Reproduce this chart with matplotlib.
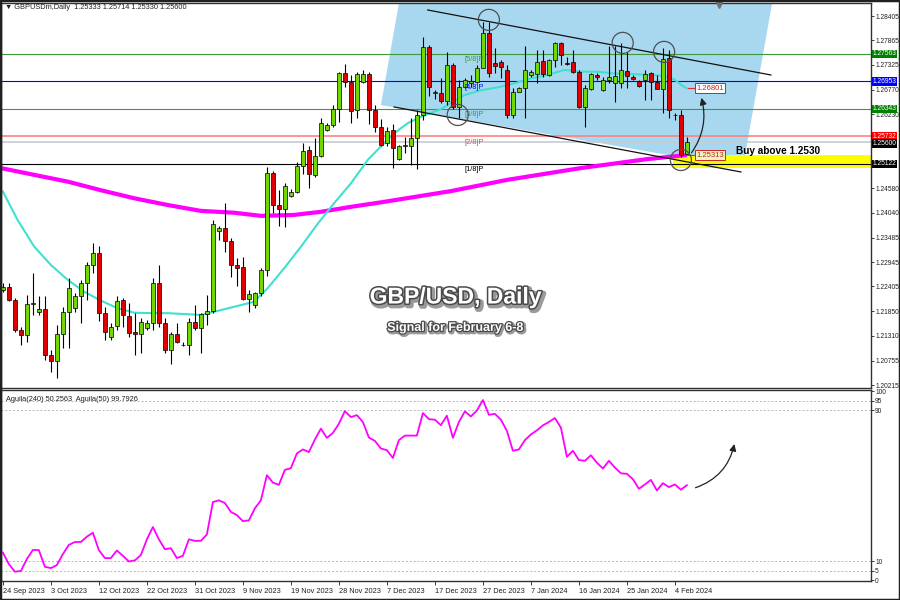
import matplotlib
matplotlib.use("Agg")
import matplotlib.pyplot as plt
import matplotlib.patheffects as pe
from matplotlib.patches import Polygon, Rectangle

plt.rcParams['font.family'] = ['Liberation Sans', 'DejaVu Sans']

# ---------------- data ----------------
opens = [1.2232, 1.2240, 1.2210, 1.2144, 1.2133, 1.2201, 1.2184, 1.2190, 1.2087, 1.2075,
         1.2135, 1.2184, 1.2192, 1.2218, 1.2249, 1.2288, 1.2314, 1.2181, 1.2129, 1.2153,
         1.2210, 1.2175, 1.2140, 1.2134, 1.2147, 1.2160, 1.2247, 1.2160, 1.2099, 1.2135,
         1.2110, 1.2110, 1.2162, 1.2147, 1.2179, 1.2186, 1.2364, 1.2369, 1.2342, 1.2289,
         1.2283, 1.2212, 1.2199, 1.2225, 1.2277, 1.2493, 1.2421, 1.2412, 1.2441, 1.2450,
         1.2508, 1.2543, 1.2488, 1.2530, 1.2588, 1.2598, 1.2634, 1.2713, 1.2695, 1.2632,
         1.2694, 1.2711, 1.2632, 1.2594, 1.2559, 1.2588, 1.2523, 1.2553, 1.2552, 1.2569,
         1.2621, 1.2771, 1.2669, 1.2670, 1.2653, 1.2731, 1.2639, 1.2682, 1.2693, 1.2695,
         1.2725, 1.2802, 1.2736, 1.2739, 1.2721, 1.2621, 1.2673, 1.2680, 1.2710, 1.2712,
         1.2741, 1.2710, 1.2743, 1.2780, 1.2736, 1.2739, 1.2717, 1.2638, 1.2678, 1.2710,
         1.2676, 1.2699, 1.2692, 1.2692, 1.2719, 1.2706, 1.2697, 1.2699, 1.2713, 1.2695,
         1.2678, 1.2747, 1.2621, 1.2621, 1.25333]
highs = [1.2247, 1.2247, 1.2214, 1.2151, 1.2221, 1.2270, 1.2218, 1.2219, 1.2099, 1.2155,
         1.2195, 1.2258, 1.2225, 1.2255, 1.2295, 1.2336, 1.2330, 1.2195, 1.2159, 1.2218,
         1.2214, 1.2203, 1.2181, 1.2170, 1.2166, 1.2258, 1.2288, 1.2170, 1.2140, 1.2159,
         1.2118, 1.2170, 1.2199, 1.2181, 1.2221, 1.2388, 1.2375, 1.2426, 1.2347, 1.2303,
         1.2306, 1.2232, 1.2229, 1.2281, 1.2505, 1.2497, 1.2454, 1.2469, 1.2456, 1.2517,
         1.2558, 1.2552, 1.2569, 1.2614, 1.2603, 1.2643, 1.2717, 1.2734, 1.2710, 1.2717,
         1.2721, 1.2717, 1.2643, 1.2611, 1.2595, 1.2602, 1.2554, 1.2573, 1.2614, 1.2632,
         1.2795, 1.2776, 1.2676, 1.2702, 1.2761, 1.2736, 1.2699, 1.2702, 1.2710, 1.2732,
         1.2828, 1.2828, 1.2769, 1.2743, 1.2732, 1.2680, 1.2682, 1.2773, 1.2721, 1.2765,
         1.2765, 1.2745, 1.2784, 1.2784, 1.2750, 1.2765, 1.2721, 1.2688, 1.2713, 1.2713,
         1.2706, 1.2773, 1.2773, 1.2780, 1.2761, 1.2710, 1.2699, 1.2721, 1.2717, 1.2710,
         1.2769, 1.2765, 1.2625, 1.2632, 1.25714]
lows = [1.2229, 1.2209, 1.2140, 1.2110, 1.2118, 1.2177, 1.2177, 1.2077, 1.2051, 1.2036,
        1.2103, 1.2103, 1.2184, 1.2160, 1.2210, 1.2270, 1.2164, 1.2121, 1.2121, 1.2144,
        1.2151, 1.2129, 1.2088, 1.2092, 1.2144, 1.2144, 1.2151, 1.2092, 1.2068, 1.2114,
        1.2107, 1.2088, 1.2144, 1.2093, 1.2155, 1.2181, 1.2343, 1.2317, 1.2261, 1.2241,
        1.2210, 1.2184, 1.2192, 1.2219, 1.2263, 1.2403, 1.2375, 1.2372, 1.2438, 1.2447,
        1.2490, 1.2458, 1.2484, 1.2528, 1.2586, 1.2595, 1.2606, 1.2684, 1.2604, 1.2614,
        1.2691, 1.2602, 1.2584, 1.2552, 1.2552, 1.2503, 1.2521, 1.2536, 1.2510, 1.2500,
        1.2610, 1.2662, 1.2656, 1.2648, 1.2643, 1.2634, 1.2614, 1.2680, 1.2682, 1.2692,
        1.2725, 1.2706, 1.2713, 1.2702, 1.2614, 1.2614, 1.2671, 1.2614, 1.2706, 1.2692,
        1.2706, 1.2708, 1.2728, 1.2732, 1.2732, 1.2715, 1.2636, 1.2595, 1.2676, 1.2699,
        1.2675, 1.2692, 1.2650, 1.2680, 1.2680, 1.2699, 1.2684, 1.2654, 1.2654, 1.2678,
        1.2625, 1.2614, 1.2610, 1.2528, 1.25330]
closes = [1.2240, 1.2210, 1.2144, 1.2133, 1.2201, 1.2203, 1.2190, 1.2087, 1.2075, 1.2135,
          1.2184, 1.2236, 1.2218, 1.2249, 1.2288, 1.2314, 1.2181, 1.2140, 1.2151, 1.2209,
          1.2177, 1.2138, 1.2134, 1.2162, 1.2160, 1.2247, 1.2160, 1.2099, 1.2135, 1.2118,
          1.2111, 1.2162, 1.2147, 1.2179, 1.2186, 1.2380, 1.2369, 1.2342, 1.2288, 1.2281,
          1.2212, 1.2223, 1.2225, 1.2277, 1.2493, 1.2421, 1.2412, 1.2463, 1.2450, 1.2508,
          1.2541, 1.2490, 1.2530, 1.2603, 1.2598, 1.2634, 1.2713, 1.2695, 1.2630, 1.2711,
          1.2711, 1.2632, 1.2594, 1.2554, 1.2586, 1.2547, 1.2552, 1.2554, 1.2569, 1.2621,
          1.2771, 1.2684, 1.2673, 1.2653, 1.2731, 1.2638, 1.2682, 1.2699, 1.2697, 1.2725,
          1.2802, 1.2713, 1.2730, 1.2728, 1.2621, 1.2673, 1.2680, 1.2721, 1.2717, 1.2739,
          1.2712, 1.2743, 1.2780, 1.2754, 1.2735, 1.2717, 1.2638, 1.2680, 1.2712, 1.2705,
          1.2699, 1.2705, 1.2708, 1.2721, 1.2708, 1.2700, 1.2685, 1.2712, 1.2695, 1.2678,
          1.2745, 1.2632, 1.2620, 1.2532, 1.25600]

ma_fast_x = [0, 2.45, 5.2, 8, 10.8, 13.5, 16.3, 19.1, 21.9, 24.7, 27.5, 33, 35.2, 38.5, 41.8,
             44.1, 46.9, 49.7, 52.5, 55.2, 58, 60.8, 63, 65.2, 67.5, 69.7, 73, 76.9, 79.7,
             82.4, 85.2, 88, 90.8, 93.6, 96.3, 99.1, 101.9, 104.7, 107.4, 110.2, 111.9, 113, 114]
ma_fast = [1.2451, 1.2388, 1.2329, 1.2288, 1.2255, 1.2229, 1.2209, 1.2192, 1.2182, 1.2181,
           1.2181, 1.2177, 1.2184, 1.2195, 1.2206, 1.2236, 1.2281, 1.2329, 1.2380, 1.2425,
           1.2469, 1.2521, 1.2551, 1.2580, 1.2603, 1.2617, 1.2634, 1.2665, 1.2676, 1.2682,
           1.2691, 1.2702, 1.2710, 1.2721, 1.2717, 1.2717, 1.2713, 1.2712, 1.2710, 1.2708,
           1.2700, 1.2688, 1.2680]
ma_slow_x = [-0.3, 5.2, 10.8, 16.3, 21.9, 27.5, 33, 38.5, 43, 48.5, 53, 58, 63.5, 69.1, 74.7,
             84.1, 96.3, 107.4, 114]
ma_slow = [1.2503, 1.2488, 1.2473, 1.2454, 1.2436, 1.2421, 1.2408, 1.2404, 1.2397, 1.2399,
           1.2406, 1.2417, 1.2428, 1.2440, 1.2452, 1.2477, 1.2503, 1.2523, 1.2532]

aguila = [14.7, 8.6, 4.6, 5.0, 11.3, 16.1, 16.0, 7.2, 6.5, 8.1,
          13.9, 18.8, 20.3, 20.3, 23.1, 25.2, 16.0, 11.8, 11.8, 15.8,
          13.0, 10.0, 10.6, 13.4, 21.7, 28.2, 21.7, 16.5, 17.0, 11.8,
          13.0, 21.7, 20.9, 20.9, 24.3, 41.4, 42.3, 40.9, 36.2, 34.5,
          31.3, 31.7, 38.1, 42.3, 55.6, 51.7, 50.5, 58.4, 59.3, 67.1,
          69.2, 67.8, 74.4, 80.2, 75.3, 77.9, 82.8, 89.4, 86.3, 87.3,
          83.7, 75.5, 73.7, 69.7, 68.8, 64.7, 74.1, 76.5, 76.5, 76.5,
          88.4, 85.2, 84.9, 82.0, 87.0, 75.3, 83.7, 89.3, 86.6, 89.8,
          95.3, 87.5, 88.0, 84.9, 79.0, 68.5, 69.2, 74.1, 77.1, 79.3,
          81.9, 83.7, 85.8, 80.7, 65.3, 68.5, 63.6, 63.2, 66.1, 62.2,
          59.1, 63.2, 59.6, 56.6, 56.3, 53.5, 48.4, 50.7, 53.1, 47.5,
          51.4, 49.3, 50.7, 47.9, 50.3]

date_idx = [0, 8, 16, 24, 32, 40, 48, 56, 64, 72, 80, 88, 96, 104, 112]
date_labels = ["24 Sep 2023", "3 Oct 2023", "12 Oct 2023", "22 Oct 2023", "31 Oct 2023",
               "9 Nov 2023", "19 Nov 2023", "28 Nov 2023", "7 Dec 2023", "17 Dec 2023",
               "27 Dec 2023", "7 Jan 2024", "16 Jan 2024", "25 Jan 2024", "4 Feb 2024"]

price_ticks = [1.28405, 1.27865, 1.27325, 1.26770, 1.26230, 1.24580, 1.24040, 1.23485,
               1.22945, 1.22405, 1.21850, 1.21310, 1.20755, 1.20215]

murrey_levels = [1.27563, 1.26953, 1.26343, 1.25732, 1.25122]
murrey_names = ["[5/8]P", "[4/8]P", "[3/8]P", "[2/8]P", "[1/8]P"]
murrey_colors = ["#3c9a3c", "#0000ff", "#3c9a3c", "#ff8080", "#000000"]
murrey_box = ["#008000", "#0000ff", "#008000", "#ff0000", "#000000"]
bid_price = 1.25600

chan_upper_x = [70.8, 128.0]
chan_upper_y = [1.28540, 1.27097]
chan_lower_x = [65.2, 123.0]
chan_lower_y = [1.26387, 1.24944]
box_x = [63.0, 66.1, 128.3, 123.3]
box_y = [1.26430, 1.28761, 1.28761, 1.25032]
circle_x = [75.8, 81.0, 103.3, 110.2, 113.0]
circle_y = [1.2621, 1.2832, 1.2781, 1.2761, 1.2521]
zone_x = [111.7, 145.0]
zone_y = [1.2504, 1.2532]

ind_levels = [95, 90, 10, 5]
ind_ticks = [100, 95, 90, 10, 5, 0]

# ---------------- figure ----------------
fig = plt.figure(figsize=(9, 6), dpi=100)
fig.patch.set_facecolor("white")
ax = fig.add_axes([0.001, 0.3533, 0.9667, 0.6417])
ax2 = fig.add_axes([0.001, 0.0317, 0.9667, 0.3183])

XMIN, XMAX = -0.33, 144.67
ax.set_xlim(XMIN, XMAX)
ax.set_ylim(1.20148, 1.28695)
ax2.set_xlim(XMIN, XMAX)
ax2.set_ylim(-0.3, 100.6)

# channel box
ax.add_patch(Polygon(list(zip(box_x, box_y)), closed=True, facecolor="#a8d8f0",
                     edgecolor="none", zorder=0.5))
# yellow zone
ax.add_patch(Rectangle((zone_x[0], zone_y[0]), zone_x[1] - zone_x[0], zone_y[1] - zone_y[0],
                       facecolor="#ffff00", edgecolor="none", zorder=0.6))

# horizontal levels
for lv, col in zip(murrey_levels, murrey_colors):
    ax.axhline(lv, color=col, lw=1.2 if col == "#ff8080" else 0.8, zorder=1)
ax.axhline(bid_price, color="#c4ccd4", lw=1.2, zorder=1)

for lv, nm, col in zip(murrey_levels, murrey_names, murrey_colors):
    tc = "#ff4040" if col == "#ff8080" else col
    ax.annotate(nm, xy=(77.0, lv), xytext=(0, -1.5), textcoords="offset points",
                fontsize=5.3, color=tc, va="top", ha="left", zorder=6)

# moving averages
ax.plot(ma_slow_x, ma_slow, color="#ff00ff", lw=3.0, zorder=2, solid_capstyle="butt")
ax.plot(ma_fast_x, ma_fast, color="#40e0d0", lw=1.5, zorder=2)

# candles
idx = list(range(len(opens)))
cols = ["#72d600" if c >= o else "#e00000" for o, c in zip(opens, closes)]
bottoms = [min(o, c) for o, c in zip(opens, closes)]
heights = [max(abs(c - o), 0.00006) for o, c in zip(opens, closes)]
ax.vlines(idx, lows, highs, color="black", lw=0.8, zorder=3)
ax.bar(idx, heights, bottom=bottoms, width=0.62, color=cols, edgecolor="black",
       linewidth=0.5, zorder=4)

# channel lines
ax.plot(chan_upper_x, chan_upper_y, color="#111111", lw=0.9, zorder=5)
ax.plot(chan_lower_x, chan_lower_y, color="#111111", lw=0.9, zorder=5)

# circles
ax.scatter(circle_x, circle_y, s=230, facecolors="none", edgecolors="#505050",
           linewidths=0.9, zorder=6)

# price labels on chart
ax.plot([114.2, 115.6], [ma_fast[-1], ma_fast[-1]], color="#e03030", lw=0.8, zorder=5)
ax.text(115.6, 1.26808, "1.26801", fontsize=5.5, color="#d02020", va="center", ha="left",
        zorder=7, bbox=dict(boxstyle="square,pad=0.15", fc="white", ec="#d02020", lw=0.7))
ax.plot([114.2, 115.6], [1.2532, 1.2532], color="#e03030", lw=0.8, zorder=5)
ax.text(115.6, 1.2532, "1.25313", fontsize=5.5, color="#d02020", va="center", ha="left",
        zorder=7, bbox=dict(boxstyle="square,pad=0.15", fc="#e8f6c0", ec="#d02020", lw=0.7))
ax.text(122.2, 1.2541, "Buy above 1.2530", fontsize=7.2, fontweight="bold", color="black",
        va="center", ha="left", zorder=7)

# curved arrow main
ax.annotate("", xy=(116.3, 1.2665), xytext=(114.5, 1.2532),
            arrowprops=dict(arrowstyle="-|>,head_length=0.4,head_width=0.2", color="#222222",
                            lw=0.9, connectionstyle="arc3,rad=0.25"), zorder=7)

# shift marker
ax.plot([119.3], [1.2866], marker="v", color="#707070", markersize=5, zorder=7,
        clip_on=False)

# right axis
LBL = 4.8
ax.yaxis.tick_right()
ax.set_yticks(price_ticks)
ax.set_yticklabels([f"{v:.5f}" for v in price_ticks])
ax.tick_params(axis="y", labelsize=LBL, length=2.5, width=0.6, pad=1, colors="#202020")
ax.tick_params(axis="x", bottom=False, labelbottom=False)
for lv, bc in zip(murrey_levels, murrey_box):
    ax.text(1.002, lv, f"{lv:.5f}", transform=ax.get_yaxis_transform(), fontsize=LBL,
            color="white", va="center", ha="left", zorder=8,
            bbox=dict(boxstyle="square,pad=0.12", fc=bc, ec="none"), clip_on=False)
ax.text(1.002, bid_price - 0.0002, f"{bid_price:.5f}", transform=ax.get_yaxis_transform(),
        fontsize=LBL, color="white", va="center", ha="left", zorder=8,
        bbox=dict(boxstyle="square,pad=0.12", fc="black", ec="none"), clip_on=False)

# titles
shadow = [pe.Stroke(linewidth=4, foreground="#9a9a9a", offset=(1.5, -1.5)),
          pe.Stroke(linewidth=2.2, foreground="#4a4a4a"), pe.Normal()]
fig.text(0.506, 0.505, "GBP/USD, Daily", fontsize=16.5, fontweight="bold", color="white",
         ha="center", va="center", path_effects=shadow)
shadow2 = [pe.Stroke(linewidth=3, foreground="#9a9a9a", offset=(1, -1)),
           pe.Stroke(linewidth=1.8, foreground="#4a4a4a"), pe.Normal()]
fig.text(0.506, 0.4535, "Signal for February 6-8", fontsize=9, fontweight="bold", color="white",
         ha="center", va="center", path_effects=shadow2)

fig.text(0.006, 0.9868, "\u25bc GBPUSDm,Daily  1.25333 1.25714 1.25330 1.25600", fontsize=5.3,
         color="#202020", va="center", ha="left")

# ---------------- indicator ----------------
for lv in ind_levels:
    ax2.axhline(lv, color="#b8b8b8", lw=0.7, ls=(0, (2, 2)), zorder=1)
ax2.plot(idx, aguila, color="#ff00ff", lw=1.3, zorder=3)
ax2.annotate("", xy=(122.0, 73.5), xytext=(115.0, 48.5),
             arrowprops=dict(arrowstyle="-|>,head_length=0.4,head_width=0.2", color="#222222",
                             lw=0.9, connectionstyle="arc3,rad=0.3"), zorder=7)
ax2.text(0.006, 0.97, "Aguila(240) 50.2563  Aguila(50) 99.7926", transform=ax2.transAxes,
         fontsize=5.3, color="#202020", va="top", ha="left")
ax2.yaxis.tick_right()
ax2.set_yticks(ind_ticks)
ax2.set_yticklabels([str(v) for v in ind_ticks])
ax2.tick_params(axis="y", labelsize=4.8, length=2, width=0.6, pad=1, colors="#202020")
ax2.set_xticks(date_idx)
ax2.set_xticklabels(date_labels, ha="left")
ax2.tick_params(axis="x", labelsize=5.3, length=3, width=0.6, pad=2, colors="#202020")

for a in (ax, ax2):
    for s in a.spines.values():
        s.set_color("#303030")
        s.set_linewidth(1.0)
    a.set_facecolor("white")

fig.add_artist(Rectangle((0, 0), 1, 1, transform=fig.transFigure, fill=False,
                         edgecolor="#202020", lw=2.5))

fig.savefig("out.png", dpi=100, facecolor="white")
